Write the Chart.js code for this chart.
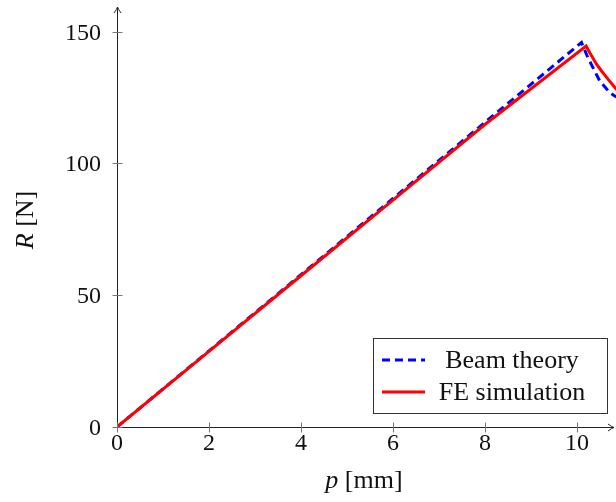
<!DOCTYPE html>
<html>
<head>
<meta charset="utf-8">
<script src="https://cdn.jsdelivr.net/npm/chart.js@4.4.0/dist/chart.umd.min.js"></script>
<style>
  body { margin: 0; background: #fff; }
  #wrap { width: 616px; height: 502px; }
</style>
</head>
<body>
<div id="wrap"><canvas id="myChart" width="616" height="502"></canvas></div>
<script>
'use strict';

// data
const beamP = [0, 2, 4, 6, 8, 10.1, 10.24, 10.39, 10.5, 10.72, 10.83, 10.95];
const beamR = [0, 28.9, 57.8, 86.7, 115.6, 145.9, 140.1, 135.0, 131.2, 126.8, 125.5, 124.6];
const feP = [0, 2, 4, 6, 8, 10.2, 10.28, 10.43, 10.54, 10.68, 10.83, 10.95];
const feR = [0, 28.7, 57.4, 86.1, 114.8, 144.6, 142.0, 137.6, 135.0, 131.9, 128.7, 126.5];
const xTicks = [0, 2, 4, 6, 8, 10];
const yTicks = [0, 50, 100, 150];
const legendLabels = ['Beam theory', 'FE simulation'];

const FONT = '24px "Liberation Serif", serif';
const TFONT = '26px "Liberation Serif", serif';

function pts(xs, ys) {
    return xs.map((x, i) => ({ x: x, y: ys[i] }));
}

// axes, ticks, titles and legend drawn pgfplots style
const axisPlugin = {
    id: 'axisPlugin',
    afterDraw(chart) {
        const c = chart.ctx;
        const xs = chart.scales.x;
        const ys = chart.scales.y;
        const x0 = Math.round(xs.getPixelForValue(0)) + 0.5;
        const y0 = Math.round(ys.getPixelForValue(0)) + 0.5;
        const xEnd = 614;
        const yEnd = 7;
        c.save();
        c.strokeStyle = '#222';
        c.lineWidth = 1;
        c.beginPath();
        c.moveTo(x0, y0);
        c.lineTo(xEnd, y0);
        c.moveTo(x0, y0);
        c.lineTo(x0, yEnd);
        c.stroke();
        // arrow heads
        c.beginPath();
        c.moveTo(xEnd - 6, y0 - 3.5);
        c.quadraticCurveTo(xEnd - 2, y0 - 0.5, xEnd, y0);
        c.quadraticCurveTo(xEnd - 2, y0 + 0.5, xEnd - 6, y0 + 3.5);
        c.moveTo(x0 - 3.5, yEnd + 6);
        c.quadraticCurveTo(x0 - 0.5, yEnd + 2, x0, yEnd);
        c.quadraticCurveTo(x0 + 0.5, yEnd + 2, x0 + 3.5, yEnd + 6);
        c.stroke();

        // ticks
        c.strokeStyle = '#777';
        c.beginPath();
        xTicks.forEach(v => {
            const px = Math.round(xs.getPixelForValue(v)) + 0.5;
            c.moveTo(px, y0 - 5);
            c.lineTo(px, y0 + 5);
        });
        yTicks.forEach(v => {
            const py = Math.round(ys.getPixelForValue(v)) + 0.5;
            c.moveTo(x0 - 5, py);
            c.lineTo(x0 + 5, py);
        });
        c.stroke();

        // tick labels
        c.fillStyle = '#111';
        c.font = FONT;
        c.textAlign = 'center';
        c.textBaseline = 'alphabetic';
        xTicks.forEach(v => {
            c.fillText(String(v), xs.getPixelForValue(v), 450);
        });
        c.textAlign = 'right';
        yTicks.forEach(v => {
            c.fillText(String(v), 101, ys.getPixelForValue(v) + 8);
        });

        // axis titles
        c.textAlign = 'left';
        c.font = 'italic ' + TFONT;
        const wp = c.measureText('p').width;
        c.font = TFONT;
        const wr = c.measureText(' [mm]').width;
        let sx = 364 - (wp + wr) / 2;
        c.font = 'italic ' + TFONT;
        c.fillText('p', sx, 488);
        c.font = TFONT;
        c.fillText(' [mm]', sx + wp, 488);

        c.save();
        c.translate(33, 220);
        c.rotate(-Math.PI / 2);
        c.font = 'italic ' + TFONT;
        const wR = c.measureText('R').width;
        c.font = TFONT;
        const wN = c.measureText(' [N]').width;
        sx = -(wR + wN) / 2;
        c.font = 'italic ' + TFONT;
        c.fillText('R', sx, 0);
        c.font = TFONT;
        c.fillText(' [N]', sx + wR, 0);
        c.restore();

        // legend box
        c.fillStyle = '#fff';
        c.fillRect(373, 338, 234, 75);
        c.strokeStyle = '#333';
        c.strokeRect(373.5, 338.5, 234, 75);
        const rows = [360, 392];
        chart.data.datasets.forEach((ds, i) => {
            c.strokeStyle = ds.borderColor;
            c.lineWidth = ds.borderWidth;
            c.setLineDash(ds.borderDash || []);
            c.beginPath();
            c.moveTo(382, rows[i]);
            c.lineTo(425, rows[i]);
            c.stroke();
            c.setLineDash([]);
            c.fillStyle = '#111';
            c.font = TFONT;
            c.textAlign = 'center';
            c.fillText(legendLabels[i], 512, rows[i] + 8);
        });
        c.restore();
    }
};

const ctx = document.getElementById('myChart').getContext('2d');
const myChart = new Chart(ctx, {
    type: 'scatter',
    data: {
        datasets: [{
            label: legendLabels[0],
            data: pts(beamP, beamR),
            showLine: true,
            borderColor: '#0000ff',
            borderWidth: 3,
            borderDash: [8, 5],
            pointRadius: 0,
            tension: 0,
            order: 2
        }, {
            label: legendLabels[1],
            data: pts(feP, feR),
            showLine: true,
            borderColor: '#ff0000',
            borderWidth: 3,
            pointRadius: 0,
            tension: 0,
            order: 1
        }]
    },
    options: {
        responsive: false,
        animation: false,
        layout: { padding: { left: 117, right: 0, top: 8, bottom: 75 } },
        plugins: {
            legend: { display: false },
            tooltip: { enabled: false }
        },
        scales: {
            x: { type: 'linear', display: false, min: 0, max: 10.85 },
            y: { type: 'linear', display: false, min: 0, max: 159 }
        }
    },
    plugins: [axisPlugin]
});
</script>
</body>
</html>
